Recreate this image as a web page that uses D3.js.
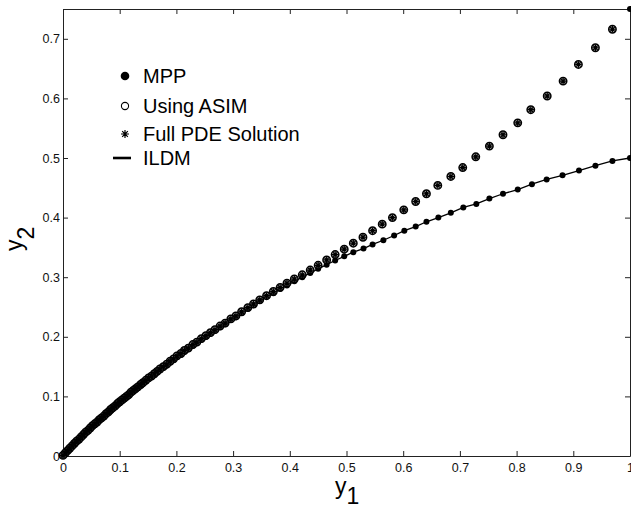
<!DOCTYPE html>
<html>
<head>
<meta charset="utf-8">
<script src="https://cdn.jsdelivr.net/npm/d3@7"></script>
<style>
  body { margin: 0; background: #fff; }
  svg { display: block; font-family: "Liberation Sans", Arial, Helvetica, sans-serif; }
</style>
</head>
<body>
<div id="chart"></div>
<script>
// データ
var xTicks = [0, 0.1, 0.2, 0.3, 0.4, 0.5, 0.6, 0.7, 0.8, 0.9, 1];
var yTicks = [0, 0.1, 0.2, 0.3, 0.4, 0.5, 0.6, 0.7];
var legendLabels = ["MPP", "Using ASIM", "Full PDE Solution", "ILDM"];

// 右上の角にある初期点
var startPoint = [[1.0, 0.75]];

// MPP（下側の曲線, 黒丸）
var mpp = [
  [1.000,0.500],[0.969,0.495],[0.939,0.487],[0.910,0.479],[0.881,0.471],[0.853,0.464],
  [0.827,0.456],[0.802,0.447],[0.776,0.440],[0.752,0.432],[0.729,0.423],[0.706,0.417],
  [0.684,0.408],[0.662,0.400],[0.641,0.393],[0.622,0.385],[0.602,0.378],[0.584,0.370],
  [0.565,0.362],[0.546,0.355],[0.530,0.348],[0.512,0.342],[0.496,0.335],[0.480,0.328],
  [0.465,0.321],[0.450,0.314],[0.436,0.307],[0.422,0.300],[0.408,0.293],[0.395,0.286],
  [0.383,0.280],[0.371,0.273],[0.359,0.267],[0.347,0.260],[0.336,0.253],[0.326,0.247],
  [0.315,0.240],[0.305,0.233],[0.296,0.228],[0.286,0.221],[0.277,0.216],[0.268,0.210],
  [0.260,0.205],[0.252,0.200],[0.244,0.195],[0.236,0.189],[0.229,0.185],[0.221,0.179],
  [0.214,0.175],[0.208,0.170],[0.201,0.166],[0.195,0.161],[0.189,0.157],[0.183,0.152],
  [0.177,0.148],[0.171,0.144],[0.166,0.140],[0.161,0.136],[0.156,0.132],[0.151,0.129],
  [0.146,0.125],[0.141,0.121],[0.137,0.118],[0.132,0.114],[0.128,0.111],[0.124,0.108],
  [0.120,0.105],[0.116,0.101],[0.112,0.098],[0.108,0.095],[0.104,0.092],[0.100,0.089],
  [0.096,0.086],[0.092,0.082],[0.088,0.079],[0.084,0.076],[0.080,0.072],[0.076,0.069],
  [0.072,0.065],[0.068,0.062],[0.064,0.059],[0.060,0.055],[0.056,0.052],[0.052,0.049],
  [0.048,0.045],[0.044,0.041],[0.040,0.038],[0.036,0.034],[0.032,0.030],[0.028,0.026],
  [0.024,0.023],[0.020,0.019],[0.016,0.015],[0.012,0.011],[0.008,0.008],[0.004,0.004],
  [0.000,0.000]
];

// ILDM の線は MPP の点の上を通る
var ildm = mpp;

// ASIM（上側の曲線, 白丸）
var asim = [
  [0.969,0.716],[0.939,0.685],[0.909,0.657],[0.882,0.629],[0.854,0.604],[0.825,0.581],
  [0.802,0.559],[0.776,0.539],[0.752,0.520],[0.728,0.502],[0.705,0.484],[0.684,0.469],
  [0.661,0.454],[0.641,0.440],[0.622,0.427],[0.601,0.413],[0.581,0.400],[0.563,0.389],
  [0.546,0.378],[0.529,0.367],[0.512,0.357],[0.496,0.347],[0.480,0.338],[0.465,0.329],
  [0.450,0.320],[0.436,0.312],[0.422,0.304],[0.408,0.297],[0.395,0.290],[0.383,0.283],
  [0.371,0.276],[0.359,0.269],[0.347,0.262],[0.336,0.255],[0.326,0.249],[0.315,0.242],
  [0.305,0.235],[0.296,0.230],[0.286,0.223],[0.277,0.218],[0.268,0.212],[0.260,0.207],
  [0.252,0.202],[0.244,0.197],[0.236,0.191],[0.229,0.187],[0.221,0.181],[0.214,0.177],
  [0.208,0.172],[0.201,0.168],[0.195,0.163],[0.189,0.159],[0.183,0.154],[0.177,0.150],
  [0.171,0.146],[0.166,0.142],[0.161,0.138],[0.156,0.134],[0.151,0.131],[0.146,0.127],
  [0.141,0.123],[0.137,0.120],[0.132,0.116],[0.128,0.113],[0.124,0.110],[0.120,0.107],
  [0.116,0.103],[0.112,0.100],[0.108,0.097],[0.104,0.094],[0.100,0.091],[0.096,0.088],
  [0.092,0.084],[0.088,0.081],[0.084,0.078],[0.080,0.074],[0.076,0.071],[0.072,0.067],
  [0.068,0.064],[0.064,0.061],[0.060,0.057],[0.056,0.054],[0.052,0.051],[0.048,0.047],
  [0.044,0.043],[0.040,0.040],[0.036,0.036],[0.032,0.032],[0.028,0.028],[0.024,0.025],
  [0.020,0.021],[0.016,0.017],[0.012,0.013],[0.008,0.009],[0.004,0.005],[0.000,0.001]
];

// Full PDE は図上で ASIM と重なっている
var pde = asim;

// サイズ
var width = 631,
  height = 510;
var padding = { top: 9, right: 1, bottom: 54, left: 63 };

var svg = d3
  .select("#chart")
  .append("svg")
  .attr("width", width)
  .attr("height", height);

var xScale = d3
  .scaleLinear()
  .domain([0, 1])
  .range([padding.left, width - padding.right]);
var yScale = d3
  .scaleLinear()
  .domain([0, 0.75])
  .range([height - padding.bottom, padding.top]);

var tickFmt = function (d) {
  return d === 0 ? "0" : d === 1 ? "1" : d.toFixed(1);
};

// 軸（目盛りは内側）
var gX = svg
  .append("g")
  .attr("transform", "translate(0," + (height - padding.bottom) + ")")
  .call(
    d3.axisBottom(xScale).tickValues(xTicks).tickSizeInner(-5).tickSizeOuter(0)
      .tickPadding(7).tickFormat(tickFmt)
  );
var gY = svg
  .append("g")
  .attr("transform", "translate(" + padding.left + ",0)")
  .call(
    d3.axisLeft(yScale).tickValues(yTicks).tickSizeInner(-5).tickSizeOuter(0)
      .tickPadding(3).tickFormat(tickFmt)
  );
var gTop = svg
  .append("g")
  .attr("transform", "translate(0," + padding.top + ")")
  .call(d3.axisTop(xScale).tickValues(xTicks).tickSizeInner(-5).tickSizeOuter(0).tickFormat(""));
var gRight = svg
  .append("g")
  .attr("transform", "translate(" + (width - padding.right) + ",0)")
  .call(d3.axisRight(yScale).tickValues(yTicks).tickSizeInner(-5).tickSizeOuter(0).tickFormat(""));

[gX, gY, gTop, gRight].forEach(function (g) {
  g.attr("font-family", null).attr("font-size", 12.5);
  g.selectAll("path, line").attr("stroke", "#222");
  g.selectAll("text").attr("fill", "#111");
});

// 軸ラベル
var xLabel = svg
  .append("text")
  .attr("x", 335)
  .attr("y", 494)
  .attr("font-size", 23)
  .text("y");
xLabel.append("tspan").attr("dy", 10).text("1");

var yLabel = svg
  .append("text")
  .attr("transform", "translate(22,251) rotate(-90)")
  .attr("font-size", 23)
  .text("y");
yLabel.append("tspan").attr("dy", 12).text("2");

// マーカー
var starPath = function (r) {
  var d = "";
  for (var i = 0; i < 4; i++) {
    var a = (i * Math.PI) / 4;
    var dx = r * Math.cos(a),
      dy = r * Math.sin(a);
    d += "M" + -dx + "," + -dy + "L" + dx + "," + dy;
  }
  return d;
};

// ILDM の線
var line = d3
  .line()
  .x(function (d) { return xScale(d[0]); })
  .y(function (d) { return yScale(d[1]); });
svg
  .append("path")
  .datum(ildm)
  .attr("d", line)
  .attr("fill", "none")
  .attr("stroke", "#000")
  .attr("stroke-width", 1.3);

// MPP
svg
  .append("g")
  .selectAll("circle")
  .data(mpp.concat(startPoint))
  .enter()
  .append("circle")
  .attr("cx", function (d) { return xScale(d[0]); })
  .attr("cy", function (d) { return yScale(d[1]); })
  .attr("r", 3)
  .attr("fill", "#000");

// ASIM
svg
  .append("g")
  .selectAll("circle")
  .data(asim)
  .enter()
  .append("circle")
  .attr("cx", function (d) { return xScale(d[0]); })
  .attr("cy", function (d) { return yScale(d[1]); })
  .attr("r", 3.7)
  .attr("fill", "#888")
  .attr("fill-opacity", 0.5)
  .attr("stroke", "#000")
  .attr("stroke-width", 1.5);

// Full PDE
svg
  .append("g")
  .selectAll("path")
  .data(pde)
  .enter()
  .append("path")
  .attr("transform", function (d) {
    return "translate(" + xScale(d[0]) + "," + yScale(d[1]) + ")";
  })
  .attr("d", starPath(3.2))
  .attr("stroke", "#000")
  .attr("stroke-width", 1.2);

// 凡例
var legend = svg.append("g").attr("transform", "translate(125,0)");
var legendY = [76, 106, 134, 158];
legend
  .append("circle").attr("cx", 0).attr("cy", legendY[0]).attr("r", 4.3).attr("fill", "#000");
legend
  .append("circle").attr("cx", 0).attr("cy", legendY[1]).attr("r", 3.6)
  .attr("fill", "none").attr("stroke", "#000").attr("stroke-width", 1.1);
legend
  .append("path").attr("transform", "translate(0," + legendY[2] + ")")
  .attr("d", starPath(4)).attr("stroke", "#000").attr("stroke-width", 1.2);
legend
  .append("line").attr("x1", -12).attr("x2", 6).attr("y1", legendY[3]).attr("y2", legendY[3])
  .attr("stroke", "#000").attr("stroke-width", 2.6);
legend
  .selectAll("text")
  .data(legendLabels)
  .enter()
  .append("text")
  .attr("x", 18)
  .attr("y", function (d, i) { return legendY[i] + 7; })
  .attr("font-size", 20)
  .text(function (d) { return d; });
</script>
</body>
</html>
